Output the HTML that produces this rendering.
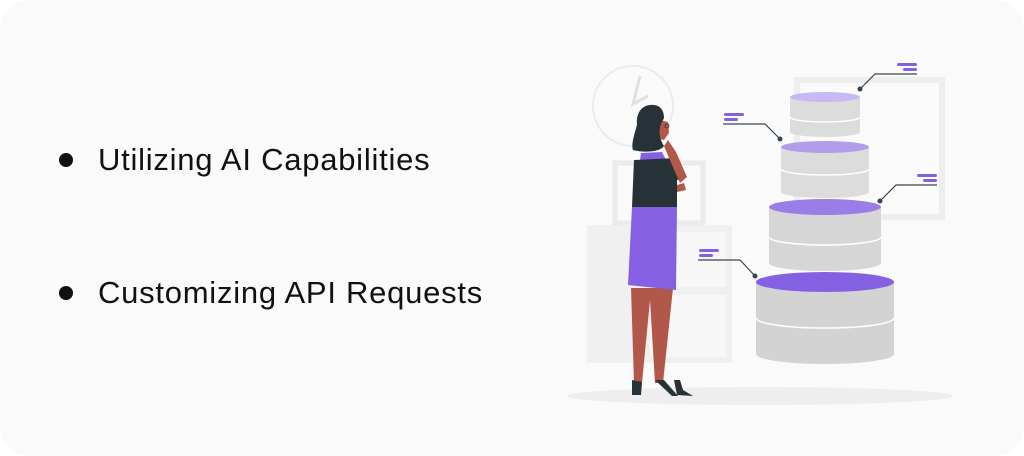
<!DOCTYPE html>
<html><head><meta charset="utf-8"><style>
html,body{margin:0;padding:0;background:#fff;}
.card{position:absolute;left:0;top:0;width:1024px;height:456px;background:#fafafa;border-radius:28px;}
.t{position:absolute;left:98px;font-family:"Liberation Sans",sans-serif;font-size:31px;color:#111;letter-spacing:0.75px;}
.b{position:absolute;left:59px;width:14px;height:14px;border-radius:50%;background:#111;}
svg{position:absolute;left:0;top:0;}
</style></head><body>
<div class="card"></div>
<div class="b" style="top:153px"></div>
<div class="t" style="top:142px">Utilizing AI Capabilities</div>
<div class="b" style="top:286px"></div>
<div class="t" style="top:275px">Customizing API Requests</div>
<svg width="1024" height="456" viewBox="0 0 1024 456">
 <ellipse cx="760" cy="396" rx="193" ry="9" fill="#eeeeee"/>
 <rect x="797" y="80" width="145" height="137" fill="none" stroke="#eeeeee" stroke-width="6"/>
 <circle cx="633" cy="106" r="40" fill="none" stroke="#ebebeb" stroke-width="2"/>
 <path d="M640 76 L633 104 L648 96" fill="none" stroke="#e0e0e0" stroke-width="3"/>
 <rect x="615" y="163" width="88" height="60" fill="none" stroke="#ebebeb" stroke-width="5"/>
 <rect x="587" y="225" width="145" height="138" fill="#f0f0f0"/>
 <rect x="650" y="232" width="76" height="55" fill="#f7f7f7"/>
 <rect x="650" y="295" width="76" height="62" fill="#f7f7f7"/>
 <g>
  <path d="M790 97 V132 A35 5 0 0 0 860 132 V97 Z" fill="#dcdcdc"/>
  <path d="M790 117 A35 5 0 0 0 860 117" fill="none" stroke="#fff" stroke-width="1.5"/>
  <ellipse cx="825" cy="97" rx="35" ry="5" fill="#c8b8f3"/>
  <path d="M781 147 V192 A44 6 0 0 0 869 192 V147 Z" fill="#dcdcdc"/>
  <path d="M781 169 A44 6 0 0 0 869 169" fill="none" stroke="#fff" stroke-width="1.5"/>
  <ellipse cx="825" cy="147" rx="44" ry="6" fill="#b39deb"/>
  <path d="M769 207 V263 A56 8 0 0 0 881 263 V207 Z" fill="#d6d6d6"/>
  <path d="M769 237 A56 8 0 0 0 881 237" fill="none" stroke="#fff" stroke-width="1.5"/>
  <ellipse cx="825" cy="207" rx="56" ry="8" fill="#9a7de6"/>
  <path d="M756 282 V354 A69 10 0 0 0 894 354 V282 Z" fill="#d3d3d3"/>
  <path d="M756 318 A69 10 0 0 0 894 318" fill="none" stroke="#fff" stroke-width="1.5"/>
  <ellipse cx="825" cy="282" rx="69" ry="10" fill="#8461e3"/>
 </g>
 <g stroke="#37474f" stroke-width="1.2" fill="none">
  <path d="M860 89 L875 74 H917"/>
  <path d="M780 139 L765 124 H723"/>
  <path d="M880 201 L896 185 H937"/>
  <path d="M755 276 L740 260 H698"/>
 </g>
 <g fill="#37474f"><circle cx="860" cy="89" r="2.5"/><circle cx="780" cy="139" r="2.5"/><circle cx="880" cy="201" r="2.5"/><circle cx="755" cy="276" r="2.5"/></g>
 <g fill="#8461e3">
  <rect x="897" y="63" width="20" height="3" rx="1.5"/><rect x="903" y="68" width="14" height="3" rx="1.5"/>
  <rect x="724" y="113" width="20" height="3" rx="1.5"/><rect x="724" y="118" width="14" height="3" rx="1.5"/>
  <rect x="917" y="174" width="20" height="3" rx="1.5"/><rect x="923" y="179" width="14" height="3" rx="1.5"/>
  <rect x="699" y="249" width="20" height="3" rx="1.5"/><rect x="699" y="254" width="14" height="3" rx="1.5"/>
 </g>
 <g>
  <path d="M631 288 L634 383 L642 383 L650 300 L655 383 L663 383 L673 288 Z" fill="#b2584b"/>
  <path d="M632 380 L632 395 L641 395 L642 382 Z" fill="#263238"/>
  <path d="M674 380 L677 395 L693 396 L683 390 L680 380 Z" fill="#263238"/>
  <path d="M655 380 L672 396 L678 396 L664 380 Z" fill="#263238"/>
  <path d="M632 207 L628 285 L676 290 L677 207 Z" fill="#8560e3"/>
  <path d="M641 153 L662 152 L666 160 L640 160 Z" fill="#8560e3"/>
  <path d="M634 160 L676 158 L684 178 L677 180 L677 207 L632 207 Z" fill="#263238"/>
  <path d="M668 140 L676 152 L687 177 L680 183 L672 165 L664 146 Z" fill="#b2584b"/>
  <path d="M677 185 L684 183 L686 190 L677 192 Z" fill="#b2584b"/>
  <path d="M660 120 L668 122 L669 133 L664 140 L656 138 Z" fill="#b2584b"/>
  <path d="M650 105 C640 106 636 115 637 125 C634 135 631 145 633 150 C645 153 660 152 664 146 C660 140 658 132 661 124 L664 118 C664 108 658 104 650 105 Z" fill="#263238"/>
  <circle cx="667" cy="126" r="2" fill="none" stroke="#263238" stroke-width="0.8"/>
 </g>
</svg>
</body></html>
